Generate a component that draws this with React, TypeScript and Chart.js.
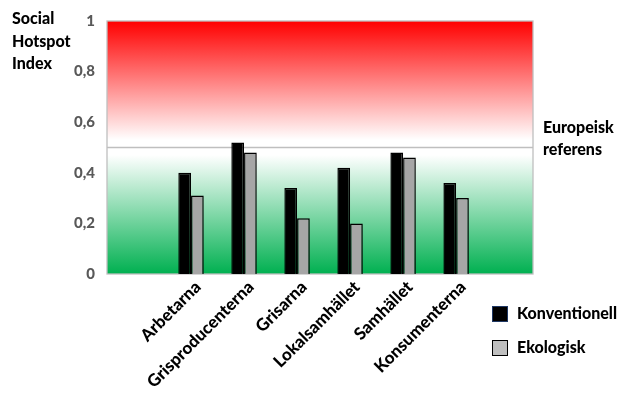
import React, { useEffect, useRef } from "react";
import { Chart, registerables } from "chart.js";

Chart.register(...registerables);

const categories = ["Arbetarna", "Grisproducenterna", "Grisarna", "Lokalsamhället", "Samhället", "Konsumenterna"];
const konventionell = [0.40, 0.52, 0.34, 0.42, 0.48, 0.36];
const ekologisk = [0.31, 0.48, 0.22, 0.20, 0.46, 0.30];
const yTicks = [0, 0.2, 0.4, 0.6, 0.8, 1];
const referenceValue = 0.5;
const yTitleLines = ["Social", "Hotspot", "Index"];
const referenceLines = ["Europeisk", "referens"];
const seriesNames = ["Konventionell", "Ekologisk"];

const FONT = "Lato, 'Open Sans', sans-serif";
const LABEL_SHIFT = 0.13;

const decor = {
  id: "decor",
  beforeDatasetsDraw(chart: any) {
    const { ctx, chartArea } = chart;
    const { left, right, top, bottom } = chartArea;
    const g = ctx.createLinearGradient(0, top, 0, bottom);
    g.addColorStop(0, "#ff0000");
    g.addColorStop(0.47, "#ffffff");
    g.addColorStop(0.53, "#ffffff");
    g.addColorStop(1, "#00b050");
    ctx.save();
    ctx.fillStyle = g;
    ctx.fillRect(left, top, right - left, bottom - top);
    const yRef = chart.scales.y.getPixelForValue(referenceValue);
    ctx.strokeStyle = "#bfbfbf";
    ctx.lineWidth = 1.3;
    ctx.beginPath();
    ctx.moveTo(left, yRef);
    ctx.lineTo(right, yRef);
    ctx.stroke();
    ctx.strokeRect(left, top, right - left, bottom - top);
    ctx.restore();
  },
  afterDraw(chart: any) {
    const { ctx, chartArea } = chart;
    ctx.save();
    ctx.fillStyle = "#000";
    ctx.textAlign = "left";
    ctx.textBaseline = "alphabetic";
    ctx.font = `900 16px ${FONT}`;
    yTitleLines.forEach((t, i) => ctx.fillText(t, 12, 24 + i * 22.5));
    referenceLines.forEach((t, i) => ctx.fillText(t, chartArea.right + 10, 133 + i * 22));
    const items = [
      { fill: "#000000", stroke: "#1f3864" },
      { fill: "#bfbfbf", stroke: "#000000" },
    ];
    items.forEach((it, i) => {
      const y = 306 + i * 34;
      ctx.fillStyle = it.fill;
      ctx.fillRect(492, y, 16, 16);
      ctx.strokeStyle = it.stroke;
      ctx.lineWidth = 1;
      ctx.strokeRect(492.5, y + 0.5, 15, 15);
      ctx.fillStyle = "#000";
      ctx.fillText(seriesNames[i], 517, y + 13);
    });
    ctx.restore();
  },
};

export default function App() {
  const ref = useRef<HTMLCanvasElement>(null);
  useEffect(() => {
    if (!ref.current) return;
    const chart = new Chart(ref.current, {
      type: "bar",
      data: {
        datasets: [
          {
            label: seriesNames[0],
            data: konventionell.map((v, i) => ({ x: i, y: v })),
            backgroundColor: "#000000",
            borderColor: "#000000",
            borderWidth: 1.5,
          },
          {
            label: seriesNames[1],
            data: ekologisk.map((v, i) => ({ x: i, y: v })),
            backgroundColor: "#a6a6a6",
            borderColor: "#000000",
            borderWidth: 1.5,
          },
        ],
      },
      plugins: [decor],
      options: {
        responsive: false,
        animation: false,
        layout: { padding: { left: 0, right: 105, top: 17, bottom: 0 } },
        datasets: { bar: { categoryPercentage: 0.48, barPercentage: 1 } },
        plugins: { legend: { display: false }, tooltip: { enabled: false } },
        scales: {
          x: {
            type: "linear",
            offset: false,
            min: -1.585,
            max: 6.45,
            grid: { display: false, offset: false, drawTicks: false },
            border: { display: false },
            afterBuildTicks: (scale: any) => {
              scale.ticks = categories.map((_, i) => ({ value: i + LABEL_SHIFT }));
            },
            afterFit: (scale: any) => {
              scale.height = 130;
            },
            ticks: {
              autoSkip: false,
              minRotation: 45,
              maxRotation: 45,
              padding: 3,
              color: "#000000",
              font: { family: FONT, size: 17, weight: "900" },
              callback: (v: any) => categories[Math.round(Number(v) - LABEL_SHIFT)] ?? "",
            },
          },
          y: {
            min: 0,
            max: 1,
            grid: { display: false, drawTicks: false },
            border: { display: false },
            afterBuildTicks: (scale: any) => {
              scale.ticks = yTicks.map((v) => ({ value: v }));
            },
            afterFit: (scale: any) => {
              scale.width = 107;
            },
            ticks: {
              padding: 12,
              color: "#595959",
              font: { family: FONT, size: 15, weight: "900" },
              callback: (v: any) => String(v).replace(".", ","),
            },
          },
        },
      },
    });
    return () => chart.destroy();
  }, []);
  return (
    <div style={{ position: "absolute", left: 0, top: 0, width: 638, height: 404, background: "#fff" }}>
      <canvas ref={ref} width={638} height={404} />
    </div>
  );
}
